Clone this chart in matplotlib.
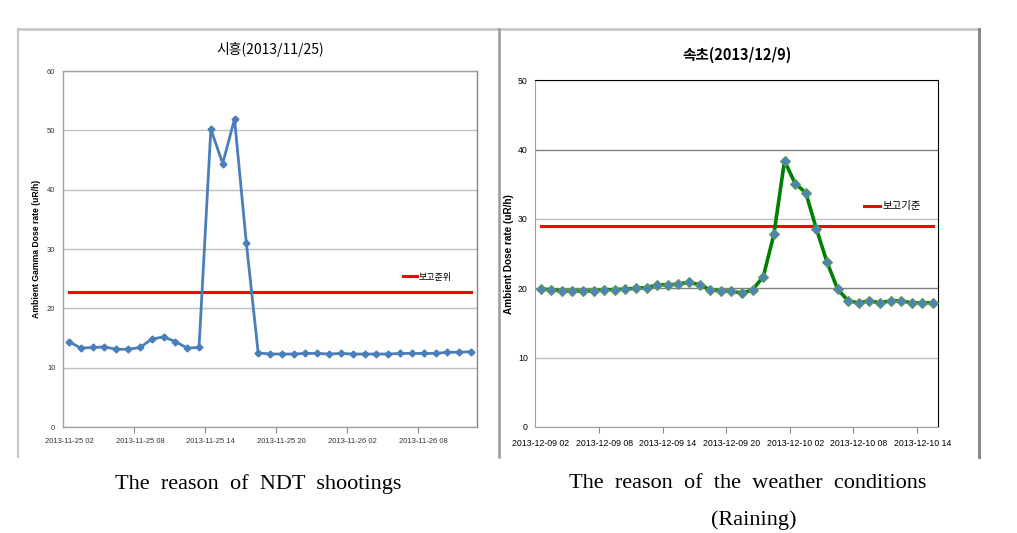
import matplotlib
matplotlib.use('Agg')
import matplotlib.pyplot as plt
from matplotlib.lines import Line2D

# ─── DATEN ─────────────────────────────────────────────
# Links: 시흥 2013/11/25, stündlich ab 02 Uhr
siheung_vals = [14.4, 13.3, 13.4, 13.5, 13.1, 13.1, 13.4, 14.8, 15.2, 14.4,
                13.3, 13.4, 50.2, 44.4, 51.9, 31.0, 12.5, 12.3, 12.3, 12.3,
                12.4, 12.4, 12.3, 12.4, 12.3, 12.3, 12.3, 12.3, 12.4, 12.4,
                12.4, 12.4, 12.6, 12.6, 12.7]
siheung_limit = 22.8
siheung_ticks = ['2013-11-25 02', '2013-11-25 08', '2013-11-25 14',
                 '2013-11-25 20', '2013-11-26 02', '2013-11-26 08']

# Rechts: 속초 2013/12/9
sokcho_vals = [19.9, 19.8, 19.6, 19.6, 19.6, 19.6, 19.8, 19.8, 19.9, 20.0,
               20.1, 20.5, 20.5, 20.6, 20.9, 20.5, 19.8, 19.6, 19.6, 19.3,
               19.8, 21.7, 27.8, 38.4, 35.1, 33.8, 28.6, 23.8, 19.9, 18.2,
               17.9, 18.2, 17.9, 18.2, 18.2, 17.9, 17.9, 17.9]
sokcho_limit = 29.0
sokcho_ticks = ['2013-12-09 02', '2013-12-09 08', '2013-12-09 14',
                '2013-12-09 20', '2013-12-10 02', '2013-12-10 08',
                '2013-12-10 14']

KR = ['Noto Sans CJK KR', 'DejaVu Sans']
NARROW = ['Liberation Sans Narrow', 'Liberation Sans']

W, H = 1017, 533
fig = plt.figure(figsize=(W / 100, H / 100), dpi=100)


def fx(x):
    return x / W


def fy(y):
    return 1 - y / H


# ─── RAHMEN (Excel-Diagrammbereich) ────────────────────
frame = [((18, 29), (18, 457), '#c4c4c4', 1.5),
         ((18, 29), (979, 29), '#c4c4c4', 1.8),
         ((499, 29), (499, 457), '#9a9a9a', 1.8),
         ((979, 29), (979, 457), '#8a8a8a', 2.2)]
for (x0, y0), (x1, y1), c, lw in frame:
    fig.add_artist(Line2D([fx(x0), fx(x1)], [fy(y0), fy(y1)], color=c, lw=lw))


def setup_axes(ax, vals, ticks, ymax, tick_size, tick_color, xpad):
    n = len(vals)
    ax.set_xlim(-0.5, n - 0.5)
    ax.set_ylim(0, ymax)
    ax.set_yticks(range(0, ymax + 1, 10))
    ax.set_xticks(range(0, 6 * len(ticks), 6))
    ax.set_xticklabels(ticks)
    ax.set_xticks([b - 0.5 for b in range(6, n, 6)], minor=True)
    ax.tick_params(axis='x', which='major', length=0, pad=xpad,
                   labelsize=tick_size, labelcolor=tick_color)
    ax.tick_params(axis='x', which='minor', length=4, width=0.8,
                   color='#888888', direction='out')
    ax.tick_params(axis='y', length=0, pad=5.5, labelsize=tick_size,
                   labelcolor=tick_color)
    for lab in ax.get_xticklabels() + ax.get_yticklabels():
        lab.set_family(NARROW)
    ax.yaxis.grid(True, color='#bfbfbf', lw=1)
    ax.set_axisbelow(True)


# ─── LINKS ─────────────────────────────────────────────
ax1 = fig.add_axes([fx(63), fy(427), (477 - 63) / W, (427 - 71) / H])
setup_axes(ax1, siheung_vals, siheung_ticks, 60, 5.5, '#333333', 8)
x1 = range(len(siheung_vals))
ax1.plot(x1, siheung_vals, color='#4a7ebb', lw=2, marker='D', ms=3.5,
         zorder=3)
ax1.plot(x1, [siheung_limit] * len(siheung_vals), color='#ff0000', lw=2.2,
         label='보고준위', zorder=2)
for s in ax1.spines.values():
    s.set_color('#a0a0a0')
    s.set_linewidth(1)
ax1.spines['right'].set_color('#888888')
ax1.legend(loc='center left', bbox_to_anchor=(0.821, 0.421), frameon=False,
           borderpad=0, borderaxespad=0, handlelength=1.6, handletextpad=0.1,
           prop={'family': KR, 'size': 6.5})
ax1.set_title('시흥(2013/11/25)', family=KR, fontsize=10, pad=12)
ax1.set_ylabel('Ambient Gamma Dose rate (uR/h)',
               family='Liberation Sans', fontsize=6.2, fontweight='bold',
               labelpad=4)

# ─── RECHTS ────────────────────────────────────────────
ax2 = fig.add_axes([fx(535.3), fy(427), (938.3 - 535.3) / W, (427 - 80.3) / H])
setup_axes(ax2, sokcho_vals, sokcho_ticks, 50, 6.3, '#000000', 9)
x2 = range(len(sokcho_vals))
ax2.plot(x2, [sokcho_limit] * len(sokcho_vals), color='#ff0000', lw=2.2,
         label='보고기준', zorder=2)
ax2.plot(x2, sokcho_vals, color='#008000', lw=2.6, marker='D', ms=5,
         mfc='#4f81bd', mec='#5a9a5a', mew=0.8, zorder=3)
for g, c in zip(ax2.get_ygridlines(), ['#bfbfbf', '#bfbfbf', '#808080',
                                       '#bfbfbf', '#808080', '#bfbfbf']):
    g.set_color(c)
for side in ['left', 'bottom']:
    ax2.spines[side].set_color('#a0a0a0')
for side in ['top', 'right']:
    ax2.spines[side].set_color('#000000')
ax2.legend(handles=[ax2.lines[0]], loc='center left',
           bbox_to_anchor=(0.815, 0.637), frameon=False, borderpad=0,
           borderaxespad=0, handlelength=1.6, handletextpad=0.2,
           prop={'family': KR, 'size': 7.5})
ax2.set_title('속초(2013/12/9)', family=KR, fontsize=10.5, fontweight='bold',
              pad=15)
ax2.set_ylabel('Ambient Dose rate (uR/h)', family='Liberation Sans',
               fontsize=7.2, fontweight='bold', labelpad=3)

# ─── BILDUNTERSCHRIFTEN ────────────────────────────────
cap = dict(family='Liberation Serif', fontsize=16, ha='center', va='center')
fig.text(fx(258), fy(484), 'The  reason  of  NDT  shootings', **cap)
fig.text(fx(748), fy(484), 'The  reason  of  the  weather  conditions', **cap)
fig.text(fx(754), fy(520), '(Raining)', **cap)

fig.savefig('out.png', dpi=100)
